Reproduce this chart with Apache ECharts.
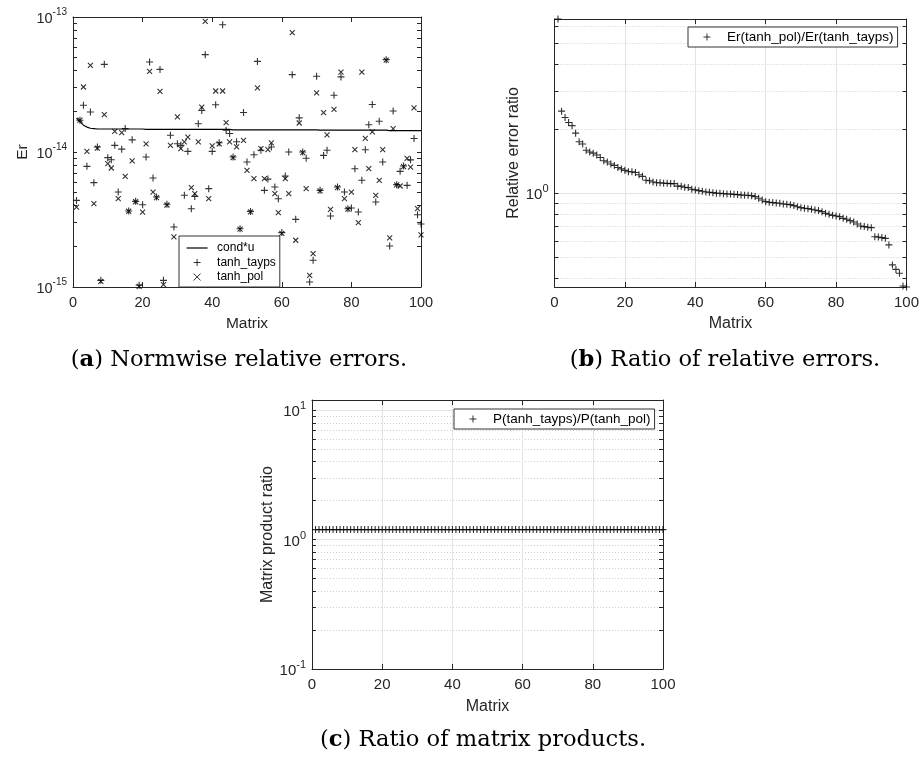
<!DOCTYPE html>
<html><head><meta charset="utf-8">
<script src="https://cdn.jsdelivr.net/npm/echarts@6/dist/echarts.min.js"></script>
<style>html,body{margin:0;padding:0;background:#fff}#c{width:923px;height:757px}</style>
</head><body><div id="c"></div>
<script>
// ---------- data ----------
const matrices = Array.from({length: 100}, (_, k) => k + 1);
const xTicks = [0, 20, 40, 60, 80, 100];

// (a) normwise relative errors
const erTayps = [4.38e-15,1.72e-14,2.22e-14,7.83e-15,1.98e-14,5.93e-15,1.09e-14,1.12e-15,4.46e-14,9.08e-15,
 8.77e-15,1.12e-14,5.05e-15,1.05e-14,1.49e-14,3.66e-15,1.23e-14,4.31e-15,1.03e-15,4.07e-15,
 9.18e-15,4.64e-14,6.42e-15,4.64e-15,4.09e-14,1.12e-15,4.10e-15,1.33e-14,2.78e-15,1.15e-14,
 1.12e-14,4.78e-15,1.01e-14,3.80e-15,4.69e-15,1.62e-14,2.03e-14,5.26e-14,5.35e-15,1.01e-14,
 2.24e-14,1.17e-14,8.77e-14,1.45e-14,1.37e-14,9.18e-15,1.19e-14,2.70e-15,1.96e-14,8.43e-15,
 3.63e-15,9.55e-15,4.69e-14,1.03e-14,5.20e-15,6.30e-15,1.09e-14,5.50e-15,4.51e-15,2.53e-15,
 6.64e-15,1.00e-14,3.74e-14,3.17e-15,1.79e-14,1.00e-14,8.98e-15,1.09e-15,1.58e-15,3.64e-14,
 5.20e-15,9.44e-15,1.03e-14,3.36e-15,2.63e-14,5.50e-15,3.60e-14,5.05e-15,3.80e-15,3.85e-15,
 7.52e-15,3.59e-15,6.17e-15,1.04e-14,1.59e-14,2.25e-14,4.26e-15,1.69e-14,8.43e-15,4.83e-14,
 2.01e-15,2.01e-14,5.73e-15,7.19e-15,7.87e-15,5.66e-15,8.75e-15,1.26e-14,3.43e-15,2.93e-15];
const erPol = [3.91e-15,1.72e-14,3.03e-14,1.01e-14,4.38e-14,4.14e-15,1.07e-14,1.10e-15,1.89e-14,8.19e-15,
 7.61e-15,1.42e-14,4.51e-15,1.39e-14,6.60e-15,3.64e-15,8.58e-15,4.28e-15,1.01e-15,3.59e-15,
 1.15e-14,3.96e-14,5.05e-15,4.60e-15,2.81e-14,1.04e-15,4.05e-15,1.12e-14,2.35e-15,1.82e-14,
 1.06e-14,1.19e-14,1.29e-14,5.44e-15,4.91e-15,1.19e-14,2.15e-14,9.29e-14,4.51e-15,1.11e-14,
 2.83e-14,1.15e-14,2.83e-14,1.65e-14,1.19e-14,9.10e-15,1.09e-14,2.68e-15,1.22e-14,7.30e-15,
 3.60e-15,6.35e-15,2.98e-14,1.06e-14,6.35e-15,1.04e-14,1.17e-14,4.91e-15,3.56e-15,2.50e-15,
 6.35e-15,4.91e-15,7.66e-14,2.22e-15,1.64e-14,0.99e-14,5.35e-15,1.22e-15,1.77e-15,2.74e-14,
 5.15e-15,1.96e-14,1.34e-14,3.76e-15,2.07e-14,5.45e-15,3.91e-14,4.51e-15,3.78e-15,5.05e-15,
 1.04e-14,3.00e-15,3.91e-14,1.26e-14,7.52e-15,1.41e-14,4.78e-15,6.17e-15,1.04e-14,4.80e-14,
 2.31e-15,1.49e-14,5.70e-15,5.60e-15,7.80e-15,8.98e-15,7.74e-15,2.12e-14,3.80e-15,2.43e-15];
const condU = [1.78e-14,1.68e-14,1.58e-14,1.53e-14,1.50e-14,1.49e-14,1.48e-14,1.48e-14,1.48e-14,1.48e-14,
 1.48e-14,1.48e-14,1.48e-14,1.48e-14,1.48e-14,1.48e-14,1.48e-14,1.48e-14,1.48e-14,1.48e-14,
 1.47e-14,1.47e-14,1.47e-14,1.47e-14,1.47e-14,1.47e-14,1.47e-14,1.47e-14,1.47e-14,1.47e-14,
 1.47e-14,1.47e-14,1.47e-14,1.47e-14,1.47e-14,1.47e-14,1.47e-14,1.47e-14,1.47e-14,1.47e-14,
 1.47e-14,1.47e-14,1.47e-14,1.47e-14,1.47e-14,1.46e-14,1.46e-14,1.46e-14,1.46e-14,1.46e-14,
 1.46e-14,1.46e-14,1.46e-14,1.46e-14,1.46e-14,1.46e-14,1.46e-14,1.46e-14,1.46e-14,1.46e-14,
 1.46e-14,1.46e-14,1.46e-14,1.46e-14,1.46e-14,1.46e-14,1.46e-14,1.46e-14,1.46e-14,1.46e-14,
 1.45e-14,1.45e-14,1.45e-14,1.45e-14,1.45e-14,1.45e-14,1.45e-14,1.45e-14,1.45e-14,1.45e-14,
 1.45e-14,1.45e-14,1.45e-14,1.45e-14,1.45e-14,1.45e-14,1.45e-14,1.45e-14,1.45e-14,1.45e-14,
 1.44e-14,1.44e-14,1.44e-14,1.44e-14,1.44e-14,1.44e-14,1.44e-14,1.44e-14,1.44e-14,1.44e-14];

// (b) ratio of relative errors, sorted
const erRatio = [6.52,2.42,2.26,2.14,2.07,1.91,1.74,1.70,1.59,1.56,
 1.54,1.51,1.47,1.42,1.40,1.37,1.35,1.32,1.30,1.28,
 1.26,1.26,1.25,1.22,1.20,1.15,1.145,1.13,1.12,1.12,
 1.114,1.113,1.11,1.11,1.08,1.08,1.067,1.063,1.044,1.037,
 1.029,1.022,1.014,1.011,1.007,1.000,1.000,0.996,0.993,0.993,
 0.989,0.986,0.982,0.979,0.979,0.975,0.965,0.948,0.931,0.914,
 0.908,0.905,0.901,0.898,0.892,0.889,0.885,0.876,0.866,0.857,
 0.851,0.848,0.842,0.836,0.830,0.821,0.806,0.798,0.789,0.784,
 0.778,0.764,0.756,0.745,0.735,0.719,0.704,0.699,0.694,0.691,
 0.627,0.625,0.621,0.616,0.574,0.463,0.441,0.423,0.369,0.365];

// (c) ratio of matrix products
const prodRatio = [1.195,1.195,1.195,1.195,1.195,1.195,1.195,1.195,1.195,1.195,
 1.195,1.195,1.195,1.195,1.195,1.195,1.195,1.195,1.195,1.195,
 1.195,1.195,1.195,1.195,1.195,1.195,1.195,1.195,1.195,1.195,
 1.195,1.195,1.195,1.195,1.195,1.195,1.195,1.195,1.195,1.195,
 1.195,1.195,1.195,1.195,1.195,1.195,1.195,1.195,1.195,1.195,
 1.195,1.195,1.195,1.195,1.195,1.195,1.195,1.195,1.195,1.195,
 1.195,1.195,1.195,1.195,1.195,1.195,1.195,1.195,1.195,1.195,
 1.195,1.195,1.195,1.195,1.195,1.195,1.195,1.195,1.195,1.195,
 1.195,1.195,1.195,1.195,1.195,1.195,1.195,1.195,1.195,1.195,
 1.195,1.195,1.195,1.195,1.195,1.195,1.195,1.195,1.195,1.195];

const decadesA = [-15, -14, -13];
const decadesB = [0];
const decadesC = [-1, 0, 1];
const yLimC = [0.1, 12];

// ---------- helpers ----------
const FONT = 'Liberation Sans';
const AX = '#262626';
const PLUS = 'path://M0,5L10,5M5,0L5,10';
const CROSS = 'path://M0,0L10,10M10,0L0,10';
const LINEICON = 'path://M0,0L0,0M0,5L30,5M30,10L30,10';
const L = Math.log10;
const pts = vals => vals.map((v, k) => [matrices[k], L(v)]);
function logTicks(lo, hi) {
  const out = [];
  for (let n = Math.floor(lo) - 1; n <= Math.ceil(hi); n++)
    for (let k = 1; k <= 9; k++) { const t = n + L(k); if (t >= lo - 1e-9 && t <= hi + 1e-9) out.push(t); }
  return out;
}
function supLabel(size) {
  return {
    fontFamily: FONT, color: AX, margin: 6,
    formatter: v => '{b|10}{s|' + Math.round(v) + '}',
    rich: {
      b: {fontSize: size, fontFamily: FONT, color: AX, padding: [4, 0, 0, 0], verticalAlign: 'bottom'},
      s: {fontSize: Math.round(size * 0.7), fontFamily: FONT, color: AX, verticalAlign: 'top'}
    }
  };
}

const yA = [-15, -13];
const yB = [L(Math.min(...erRatio)), L(Math.max(...erRatio))];
const yC = [L(yLimC[0]), L(yLimC[1])];
const tA = logTicks(yA[0], yA[1]);
const tB = logTicks(yB[0], yB[1]);
const tC = logTicks(yC[0], yC[1]);
const minor = (ts, majors) => ts.filter(t => !majors.some(m => Math.abs(m - t) < 1e-9));

const grids = [
  {left: 73, top: 17, width: 348, height: 270},
  {left: 554.5, top: 19, width: 352, height: 268},
  {left: 312, top: 400, width: 351, height: 269}
];
const tick = {fontSize: [14.5, 15, 15]};
const nameSize = [15.5, 16, 16];

function xAxes(g, grid) {
  return [
    {type: 'value', gridIndex: g, min: 0, max: 100, interval: 20,
     axisLine: {show: true, onZero: false, lineStyle: {color: AX}},
     axisTick: {inside: true, length: 5, lineStyle: {color: AX}},
     axisLabel: {fontFamily: FONT, fontSize: tick.fontSize[g], color: AX, margin: 8},
     splitLine: {show: grid, lineStyle: {color: '#e3e3e3', width: 1}},
     name: 'Matrix', nameLocation: 'middle', nameGap: g === 2 ? 30 : 29,
     nameTextStyle: {fontFamily: FONT, fontSize: nameSize[g], color: AX}},
    {type: 'value', gridIndex: g, min: 0, max: 100, interval: 20, position: 'top',
     axisLine: {show: true, onZero: false, lineStyle: {color: AX}},
     axisTick: {inside: true, length: 5, lineStyle: {color: AX}},
     axisLabel: {show: false}, splitLine: {show: false}}
  ];
}
function yAxes(g, ext, ticks, majors, name, gap, grid) {
  const arr = [
    {type: 'value', gridIndex: g, min: ext[0], max: ext[1], position: 'left',
     axisLine: {show: true, onZero: false, lineStyle: {color: AX}},
     axisTick: {inside: true, length: 4, customValues: ticks, lineStyle: {color: AX}},
     axisLabel: Object.assign({customValues: majors}, supLabel(tick.fontSize[g])),
     splitLine: {show: false},
     name: name, nameLocation: 'middle', nameGap: gap, nameRotate: 90,
     nameTextStyle: {fontFamily: FONT, fontSize: nameSize[g], color: AX}},
    {type: 'value', gridIndex: g, min: ext[0], max: ext[1], position: 'right',
     axisLine: {show: true, onZero: false, lineStyle: {color: AX}},
     axisTick: {inside: true, length: 4, customValues: ticks, lineStyle: {color: AX}},
     axisLabel: {show: false}, splitLine: {show: false}}
  ];
  if (grid) {
    arr.push(
      {type: 'value', gridIndex: g, min: ext[0], max: ext[1], position: 'left',
       axisLine: {show: false}, axisTick: {show: false, customValues: majors}, axisLabel: {show: false},
       splitLine: {show: true, lineStyle: {color: '#e3e3e3', width: 1}}},
      {type: 'value', gridIndex: g, min: ext[0], max: ext[1], position: 'left',
       axisLine: {show: false}, axisTick: {show: false, customValues: minor(ticks, majors)}, axisLabel: {show: false},
       splitLine: {show: true, lineStyle: {color: '#cfcfcf', width: 1, type: [1, 2]}}}
    );
  }
  return arr;
}

const xAxis = [].concat(xAxes(0, false), xAxes(1, true), xAxes(2, true));
const yAxis = [].concat(
  yAxes(0, yA, tA, decadesA, 'Er', 42, false),
  yAxes(1, yB, tB, decadesB, 'Relative error ratio', 32, true),
  yAxes(2, yC, tC, decadesC, 'Matrix product ratio', 34, true)
);

const mk = {color: 'rgba(0,0,0,0)', borderColor: '#000', borderWidth: 1.1};
const series = [
  {name: 'cond*u', type: 'line', xAxisIndex: 0, yAxisIndex: 0, data: pts(condU), symbol: 'none',
   lineStyle: {color: '#000', width: 1.2}, itemStyle: {color: '#000', borderColor: '#000'}, silent: true, z: 3},
  {name: 'tanh_tayps', type: 'scatter', xAxisIndex: 0, yAxisIndex: 0, data: pts(erTayps), symbol: PLUS,
   symbolSize: 7, symbolKeepAspect: true, itemStyle: mk, silent: true, z: 4},
  {name: 'tanh_pol', type: 'scatter', xAxisIndex: 0, yAxisIndex: 0, data: pts(erPol), symbol: CROSS,
   symbolSize: 5, symbolKeepAspect: true, itemStyle: mk, silent: true, z: 4},
  {name: 'Er(tanh_pol)/Er(tanh_tayps)', type: 'scatter', xAxisIndex: 2, yAxisIndex: 2, data: pts(erRatio),
   symbol: PLUS, symbolSize: 7, symbolKeepAspect: true, itemStyle: mk, silent: true, z: 4},
  {name: 'P(tanh_tayps)/P(tanh_pol)', type: 'scatter', xAxisIndex: 4, yAxisIndex: 6, data: pts(prodRatio),
   symbol: PLUS, symbolSize: 7, symbolKeepAspect: true, itemStyle: mk, silent: true, z: 4}
];

const legBase = {orient: 'vertical', itemWidth: 30, itemHeight: 7, itemGap: 0, selectedMode: false,
  borderColor: '#333', borderWidth: 1, backgroundColor: '#fff', borderRadius: 0,
  itemStyle: {borderWidth: 1}, lineStyle: {width: 1.2}};
const legend = [
  Object.assign({}, legBase, {data: [{name: 'cond*u', icon: LINEICON, itemStyle: {color: 'rgba(0,0,0,0)', borderColor: '#000', borderWidth: 1.2}}, 'tanh_tayps', 'tanh_pol'],
    left: 179, top: 236, itemGap: 2.5,
    padding: [6, 4, 4, 7], textStyle: {fontFamily: FONT, fontSize: 12, color: '#000'}}),
  Object.assign({}, legBase, {data: ['Er(tanh_pol)/Er(tanh_tayps)'], left: 688, top: 27,
    padding: [3, 4, 3, 15], textStyle: {fontFamily: FONT, fontSize: 13.5, color: '#000'}}),
  Object.assign({}, legBase, {data: ['P(tanh_tayps)/P(tanh_pol)'], left: 454, top: 409,
    padding: [3, 4, 3, 15], textStyle: {fontFamily: FONT, fontSize: 13.5, color: '#000'}})
];

const CAP = 'DejaVu Serif';
const CAPSIZE = 22.6;
function caption(x, y, letter, rest) {
  return {type: 'text', x: x, y: y, silent: true,
    style: {text: '({b|' + letter + '}) ' + rest, fontFamily: CAP, fontSize: CAPSIZE, fill: '#000',
      align: 'center', verticalAlign: 'middle',
      rich: {b: {fontFamily: CAP, fontSize: CAPSIZE, fontWeight: 'bold', fill: '#000'}}}};
}

const chart = echarts.init(document.getElementById('c'), null, {renderer: 'canvas'});
chart.setOption({
  animation: false,
  backgroundColor: '#fff',
  textStyle: {fontFamily: FONT},
  grid: grids,
  xAxis: xAxis,
  yAxis: yAxis,
  legend: legend,
  series: series,
  graphic: [
    caption(239, 360, 'a', 'Normwise relative errors.'),
    caption(725, 360, 'b', 'Ratio of relative errors.'),
    caption(483, 740, 'c', 'Ratio of matrix products.')
  ]
});
</script></body></html>
